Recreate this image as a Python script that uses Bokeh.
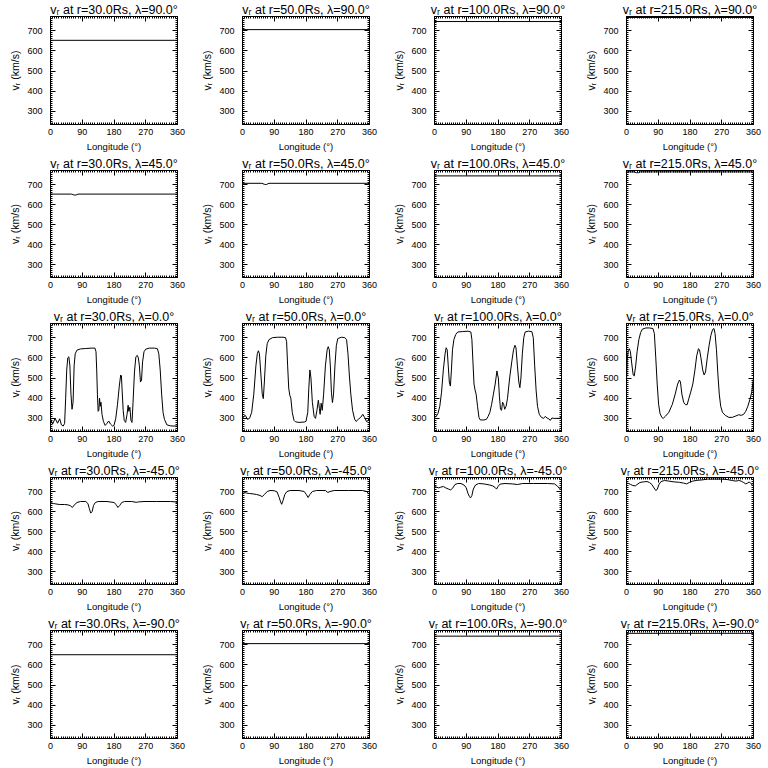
from bokeh.plotting import figure
from bokeh.layouts import gridplot
from bokeh.models import Range1d, FixedTicker, LinearAxis, CustomLabelingPolicy
from bokeh.embed import file_html
from bokeh.resources import INLINE

# ---------------- data ----------------
radii = [30.0, 50.0, 100.0, 215.0]
lats = [90.0, 45.0, 0.0, -45.0, -90.0]
x_ticks = [0, 90, 180, 270, 360]
y_ticks = [300, 400, 500, 600, 700]

lon_flat = [0, 360]

# latitude +90
vr_n90_r30 = [652, 652]
vr_n90_r50 = [705, 705]
vr_n90_r100 = [745, 745]
vr_n90_r215 = [765, 765]

# latitude +45
lon_n45_r30 = [0, 60, 66, 72, 78, 360]
vr_n45_r30 = [652, 652, 648, 647, 652, 652]
lon_n45_r50 = [0, 55, 62, 68, 75, 355, 360]
vr_n45_r50 = [706, 706, 701, 700, 706, 706, 703]
vr_n45_r100 = [743, 743]
lon_n45_r215 = [0, 22, 28, 34, 40, 360]
vr_n45_r215 = [763, 763, 759, 759, 763, 763]

# latitude 0
lon_eq_r30 = [0, 6, 13, 20, 26, 31, 36, 40, 43, 46, 49, 52, 55, 58, 61, 64, 67, 70, 75, 85,
              100, 115, 126, 129, 131, 133, 135, 137, 139, 141, 143, 146, 150, 155, 160, 165,
              170, 176, 180, 185, 190, 195, 199, 201, 203, 206, 209, 213, 217, 220, 222, 225,
              228, 231, 234, 238, 242, 246, 249, 252, 255, 258, 261, 265, 270, 280, 295, 303,
              307, 311, 315, 319, 323, 330, 340, 350, 360]
vr_eq_r30 = [298, 272, 300, 276, 298, 268, 262, 275, 400, 540, 600, 605, 560, 420, 345, 380,
             560, 620, 638, 644, 646, 648, 648, 630, 540, 420, 335, 340, 400, 360, 380, 320,
             285, 265, 275, 287, 272, 262, 265, 300, 370, 460, 515, 510, 440, 340, 290, 280,
             320, 365, 335, 355, 290, 280, 380, 530, 605, 612, 600, 560, 480, 490, 580, 630,
             643, 648, 648, 645, 620, 540, 420, 330, 295, 268, 263, 262, 262]

lon_eq_r50 = [0, 4, 8, 14, 20, 26, 32, 38, 42, 45, 48, 52, 56, 59, 62, 66, 70, 75, 85, 100,
              115, 122, 125, 128, 131, 134, 137, 141, 146, 150, 160, 175, 180, 185, 188, 191,
              194, 198, 203, 207, 211, 215, 218, 220, 223, 226, 230, 235, 240, 243, 246, 249,
              252, 255, 258, 262, 266, 270, 280, 290, 295, 299, 303, 307, 312, 318, 322, 328,
              335, 341, 346, 352, 356, 360]
vr_eq_r50 = [300, 310, 315, 295, 300, 330, 420, 560, 620, 635, 620, 520, 420, 398, 480, 610,
             670, 690, 700, 702, 702, 700, 680, 560, 450, 415, 400, 330, 290, 283, 280, 282,
             285, 330, 450, 540, 500, 380, 310, 300, 340, 390, 350, 320, 375, 340, 420, 560,
             640, 655, 640, 560, 430, 378, 420, 560, 660, 695, 702, 700, 690, 620, 510, 420,
             340, 295, 285, 295, 305, 320, 305, 283, 290, 305]

lon_eq_r100 = [0, 5, 10, 15, 20, 25, 30, 33, 36, 39, 42, 45, 48, 51, 55, 60, 66, 80, 95, 103,
               106, 109, 112, 115, 118, 122, 126, 130, 140, 147, 152, 157, 162, 167, 172, 177,
               179, 181, 184, 187, 190, 193, 196, 199, 203, 207, 213, 219, 224, 228, 231, 235,
               239, 242, 245, 249, 253, 257, 266, 276, 280, 284, 288, 292, 297, 303, 309, 314,
               319, 324, 328, 333, 338, 346, 353, 360]
vr_eq_r100 = [305, 310, 325, 360, 430, 540, 620, 650, 640, 560, 480, 460, 540, 640, 690, 715,
              728, 730, 732, 728, 690, 580, 470, 440, 420, 360, 305, 292, 292, 295, 310, 330,
              370, 420, 470, 535, 515, 500, 410, 345, 340, 380, 370, 345, 360, 400, 500, 580,
              640, 662, 650, 560, 480, 452, 500, 620, 700, 728, 732, 730, 700, 560, 440, 360,
              320, 305, 300, 310, 302, 298, 290, 302, 300, 300, 300, 305]

lon_eq_r215 = [0, 2, 5, 8, 11, 15, 19, 22, 26, 30, 35, 40, 45, 55, 65, 75, 79, 83, 87, 91, 95,
               100, 104, 110, 120, 130, 138, 145, 150, 153, 157, 162, 167, 172, 177, 182, 188,
               194, 199, 204, 207, 211, 216, 220, 224, 229, 234, 239, 244, 248, 251, 255, 259,
               263, 267, 272, 280, 290, 300, 310, 318, 325, 332, 338, 344, 350, 355, 360]
vr_eq_r215 = [480, 590, 635, 645, 630, 570, 515, 510, 560, 630, 690, 725, 742, 748, 748, 745,
              720, 600, 470, 370, 325, 305, 300, 310, 330, 370, 420, 470, 490, 480, 420, 380,
              368, 368, 400, 430, 470, 540, 610, 645, 640, 600, 540, 515, 530, 600, 660, 710,
              740, 745, 720, 640, 520, 420, 360, 330, 315, 305, 305, 312, 318, 315, 320, 335,
              360, 395, 430, 500]

# latitude -45
lon_s45_r30 = [0, 8, 15, 25, 40, 50, 57, 62, 67, 75, 85, 100, 106, 110, 114, 118, 122, 127,
               135, 160, 180, 186, 191, 196, 202, 210, 230, 243, 250, 265, 300, 340, 355, 360]
vr_s45_r30 = [645, 640, 638, 635, 635, 633, 628, 620, 632, 645, 650, 650, 640, 615, 592, 600,
              630, 645, 650, 650, 645, 635, 620, 630, 645, 650, 650, 646, 648, 650, 650, 650,
              648, 638]

lon_s45_r50 = [0, 6, 12, 20, 30, 40, 50, 56, 62, 70, 78, 90, 98, 104, 108, 111, 115, 120, 126,
               135, 160, 175, 181, 186, 191, 198, 210, 235, 242, 248, 260, 300, 340, 352, 360]
vr_s45_r50 = [700, 695, 692, 690, 688, 685, 680, 674, 685, 700, 705, 704, 698, 670, 648, 636,
              655, 685, 700, 705, 705, 700, 685, 670, 685, 700, 705, 705, 695, 700, 705, 705,
              705, 700, 685]

lon_s45_r100 = [0, 5, 12, 18, 25, 32, 40, 46, 52, 58, 66, 75, 84, 90, 95, 99, 102, 106, 110,
                116, 125, 140, 155, 165, 172, 176, 180, 186, 200, 220, 235, 250, 280, 320, 340,
                348, 354, 358, 360]
vr_s45_r100 = [725, 722, 718, 722, 725, 718, 712, 708, 718, 735, 740, 740, 732, 718, 690, 675,
               668, 680, 712, 732, 740, 738, 733, 728, 720, 712, 725, 737, 740, 738, 735, 740,
               740, 740, 738, 728, 715, 718, 725]

lon_s45_r215 = [0, 6, 12, 18, 25, 30, 38, 48, 58, 65, 72, 78, 83, 87, 92, 98, 108, 120, 135,
                150, 162, 170, 178, 188, 200, 215, 230, 250, 270, 285, 300, 310, 318, 325, 332,
                338, 343, 348, 352, 356, 360]
vr_s45_r215 = [742, 740, 735, 730, 728, 735, 745, 748, 750, 745, 735, 718, 705, 710, 735, 750,
               755, 752, 748, 746, 742, 738, 745, 752, 756, 758, 762, 762, 762, 760, 755, 752,
               755, 752, 745, 738, 742, 748, 740, 735, 745]

# latitude -90
vr_s90_r30 = [650, 650]
vr_s90_r50 = [705, 705]
vr_s90_r100 = [742, 742]
vr_s90_r215 = [756, 756]

series = {
    (90.0, 30.0): (lon_flat, vr_n90_r30),
    (90.0, 50.0): (lon_flat, vr_n90_r50),
    (90.0, 100.0): (lon_flat, vr_n90_r100),
    (90.0, 215.0): (lon_flat, vr_n90_r215),
    (45.0, 30.0): (lon_n45_r30, vr_n45_r30),
    (45.0, 50.0): (lon_n45_r50, vr_n45_r50),
    (45.0, 100.0): (lon_flat, vr_n45_r100),
    (45.0, 215.0): (lon_n45_r215, vr_n45_r215),
    (0.0, 30.0): (lon_eq_r30, vr_eq_r30),
    (0.0, 50.0): (lon_eq_r50, vr_eq_r50),
    (0.0, 100.0): (lon_eq_r100, vr_eq_r100),
    (0.0, 215.0): (lon_eq_r215, vr_eq_r215),
    (-45.0, 30.0): (lon_s45_r30, vr_s45_r30),
    (-45.0, 50.0): (lon_s45_r50, vr_s45_r50),
    (-45.0, 100.0): (lon_s45_r100, vr_s45_r100),
    (-45.0, 215.0): (lon_s45_r215, vr_s45_r215),
    (-90.0, 30.0): (lon_flat, vr_s90_r30),
    (-90.0, 50.0): (lon_flat, vr_s90_r50),
    (-90.0, 100.0): (lon_flat, vr_s90_r100),
    (-90.0, 215.0): (lon_flat, vr_s90_r215),
}

FONT = "Liberation Sans"
x_minor = list(range(0, 361, 6))
y_minor = list(range(240, 771, 10))

HIDE_ALL = "for (const i of indices) { indices.unset(i) } return indices"

row_height = [154, 153, 154, 153, 154]


def style_axis(ax, labels, label_size="9.5px", standoff=4):
    ax.major_tick_in = 5
    ax.major_tick_out = 0
    ax.minor_tick_in = 2
    ax.minor_tick_out = 0
    ax.axis_line_color = "black"
    ax.major_tick_line_color = "black"
    ax.minor_tick_line_color = "black"
    if labels:
        ax.major_label_text_font = FONT
        ax.major_label_text_font_size = "9px"
        ax.major_label_text_color = "black"
        ax.major_label_standoff = standoff
        ax.axis_label_text_font = FONT
        ax.axis_label_text_font_size = label_size
        ax.axis_label_text_font_style = "normal"
        ax.axis_label_text_color = "black"
        ax.axis_label_standoff = 3
    else:
        ax.major_label_text_font_size = "0px"
        ax.major_label_standoff = 0
        ax.major_label_policy = CustomLabelingPolicy(code=HIDE_ALL)
        ax.axis_label = None


rows = []
for i, lat in enumerate(lats):
    row = []
    for r in radii:
        lon, vr = series[(lat, r)]
        p = figure(width=192, height=row_height[i], output_backend="svg",
                   toolbar_location=None,
                   x_range=Range1d(0, 360), y_range=Range1d(235, 770),
                   min_border_left=50, min_border_right=15,
                   min_border_top=14, min_border_bottom=29,
                   title="vᵣ at r=%.1fRs, λ=%.1f°" % (r, lat))
        p.title.text_font = FONT
        p.title.text_font_size = "12.5px"
        p.title.text_font_style = "normal"
        p.title.text_color = "black"
        p.title.align = "center"
        p.title.standoff = 0
        p.title.offset = 0
        p.grid.visible = False
        p.outline_line_color = "black"
        p.outline_line_alpha = 1
        p.background_fill_color = "white"
        p.border_fill_color = "white"

        p.xaxis.ticker = FixedTicker(ticks=x_ticks, minor_ticks=x_minor)
        p.yaxis.ticker = FixedTicker(ticks=y_ticks, minor_ticks=y_minor)
        p.xaxis.axis_label = "Longitude (°)"
        p.yaxis.axis_label = "vᵣ (km/s)"
        for ax in p.xaxis:
            style_axis(ax, True, "9.5px", 4)
        for ax in p.yaxis:
            style_axis(ax, True, "10.5px", 8)

        top = LinearAxis(ticker=FixedTicker(ticks=x_ticks, minor_ticks=x_minor))
        right = LinearAxis(ticker=FixedTicker(ticks=y_ticks, minor_ticks=y_minor))
        style_axis(top, False)
        style_axis(right, False)
        p.add_layout(top, "above")
        p.add_layout(right, "right")

        p.line(lon, vr, line_color="black", line_width=1)
        row.append(p)
    rows.append(row)

grid = gridplot(rows, toolbar_location=None)
open("out.html", "w").write(file_html(grid, INLINE))
